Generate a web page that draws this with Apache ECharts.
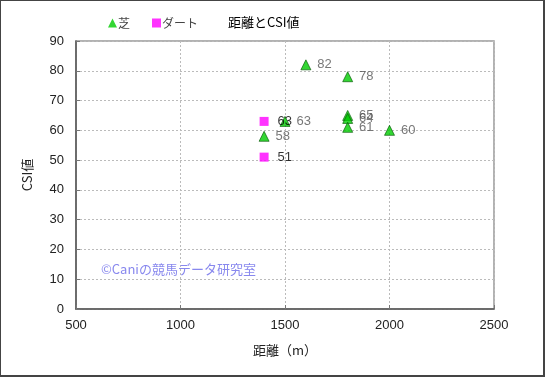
<!DOCTYPE html>
<html><head><meta charset="utf-8">
<script src="https://cdn.jsdelivr.net/npm/echarts@6/dist/echarts.min.js"></script>
<style>html,body{margin:0;padding:0;background:#fff}#c{width:545px;height:377px;box-sizing:border-box;border:2px solid #444;border-left:1px solid #444;border-top:1px solid #444}</style>
</head><body><div id="c"></div>
<script>
const turfDist = [1400, 1500, 1600, 1800, 1800, 1800, 1800, 2000];
const turfCSI  = [58, 63, 82, 78, 65, 64, 61, 60];
const dirtDist = [1400, 1400];
const dirtCSI  = [63, 51];
const xTicks = [500, 1000, 1500, 2000, 2500];
const yTicks = [0, 10, 20, 30, 40, 50, 60, 70, 80, 90];
const FONT = '"Noto Sans CJK JP", sans-serif';
const NUM = '"Liberation Sans", Arial, sans-serif';
const chart = echarts.init(document.getElementById('c'));
chart.setOption({
  animation: false,
  title: {text: '距離とCSI値', left: 222, top: 10, textStyle: {fontFamily: FONT, fontSize: 13, fontWeight: 'normal', color: '#000'}},
  legend: {left: 102, top: 11, itemWidth: 9, itemHeight: 9, itemGap: 22,
    textStyle: {fontFamily: FONT, fontSize: 12, color: '#444', padding: [0,0,0,-4]},
    data: [{name: '芝', icon: 'triangle', itemStyle: {borderWidth: 0}}, {name: 'ダート', icon: 'rect'}]},
  grid: {left: 75, top: 40, width: 418, height: 268},
  xAxis: {type: 'value', min: xTicks[0], max: xTicks[xTicks.length-1], interval: 500,
    name: '距離（m）', nameLocation: 'middle', nameGap: 35,
    nameTextStyle: {fontFamily: FONT, fontSize: 13, color: '#222'},
    axisLine: {lineStyle: {color: '#555', width: 1.5}},
    axisTick: {inside: true, length: 4, lineStyle: {color: '#777'}},
    axisLabel: {fontFamily: NUM, fontSize: 13, color: '#222', margin: 10, formatter: v => String(v)},
    splitLine: {show: true, lineStyle: {color: '#bbb', type: [2, 2]}}},
  yAxis: {type: 'value', min: yTicks[0], max: yTicks[yTicks.length-1], interval: 10,
    name: 'CSI値', nameLocation: 'middle', nameGap: 42,
    nameTextStyle: {fontFamily: FONT, fontSize: 13, color: '#222'},
    axisLine: {show: true, lineStyle: {color: '#555', width: 1.5}},
    axisTick: {show: true, inside: true, length: 4, lineStyle: {color: '#777'}},
    axisLabel: {fontFamily: NUM, fontSize: 13, color: '#222', margin: 12},
    splitLine: {show: true, lineStyle: {color: '#bbb', type: [2, 2]}}},
  graphic: [
    {type: 'rect', shape: {x: 75, y: 40, width: 418, height: 268}, style: {fill: 'none', stroke: '#999', lineWidth: 1.5}, z: 0, silent: true},
    {type: 'text', left: 100, top: 262, style: {text: '©Caniの競馬データ研究室', fill: '#8888ee', font: '13px ' + FONT}, z: 10}
  ],
  series: [
    {name: '芝', type: 'scatter', symbol: 'triangle', symbolSize: 10,
      itemStyle: {color: '#00cc00', borderColor: '#005500', borderWidth: 0.8},
      label: {show: true, position: 'right', distance: 6, formatter: p => p.value[1], fontFamily: NUM, fontSize: 13, color: '#555'},
      data: turfDist.map((d, i) => [d, turfCSI[i]])},
    {name: 'ダート', type: 'scatter', symbol: 'rect', symbolSize: 9,
      itemStyle: {color: '#ff00ff'},
      label: {show: true, position: 'right', distance: 9, formatter: p => p.value[1], fontFamily: NUM, fontSize: 13, color: '#000'},
      data: dirtDist.map((d, i) => [d, dirtCSI[i]])}
  ]
});
</script></body></html>
